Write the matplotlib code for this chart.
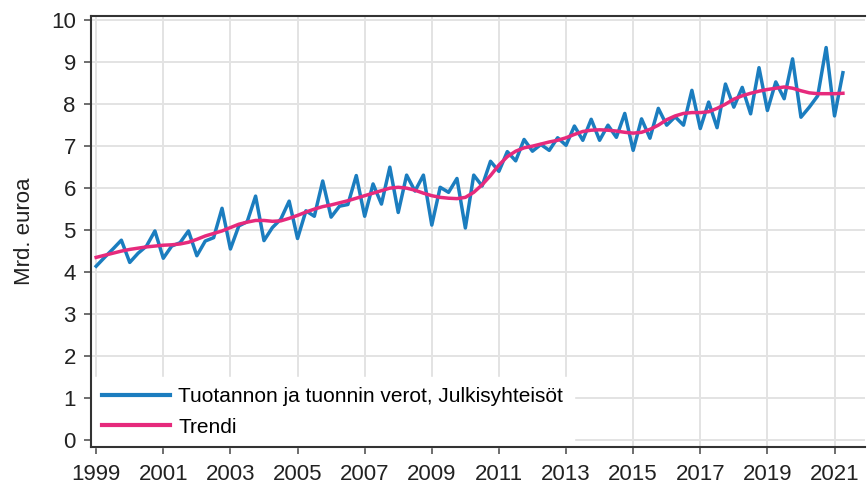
import matplotlib
matplotlib.use("Agg")
import matplotlib.pyplot as plt
import numpy as np

plt.rcParams['font.family'] = ['Liberation Sans', 'DejaVu Sans']

# quarterly data 1999Q1 .. 2021Q2, billions of euro
start_year = 1999
verot = [
    4.14, 4.35, 4.55, 4.76,   # 1999
    4.23, 4.45, 4.62, 4.98,   # 2000
    4.33, 4.62, 4.70, 4.98,   # 2001
    4.39, 4.74, 4.82, 5.52,   # 2002
    4.55, 5.10, 5.20, 5.81,   # 2003
    4.75, 5.06, 5.26, 5.69,   # 2004
    4.80, 5.46, 5.33, 6.17,   # 2005
    5.31, 5.57, 5.61, 6.30,   # 2006
    5.33, 6.10, 5.62, 6.50,   # 2007
    5.42, 6.31, 5.93, 6.31,   # 2008
    5.12, 6.02, 5.90, 6.23,   # 2009
    5.05, 6.31, 6.05, 6.64,   # 2010
    6.40, 6.87, 6.65, 7.16,   # 2011
    6.88, 7.04, 6.90, 7.20,   # 2012
    7.02, 7.48, 7.14, 7.64,   # 2013
    7.14, 7.50, 7.21, 7.78,   # 2014
    6.90, 7.65, 7.19, 7.90,   # 2015
    7.50, 7.70, 7.50, 8.33,   # 2016
    7.42, 8.05, 7.44, 8.48,   # 2017
    7.93, 8.40, 7.77, 8.87,   # 2018
    7.85, 8.53, 8.13, 9.08,   # 2019
    7.69, 7.93, 8.20, 9.35,   # 2020
    7.72, 8.75,               # 2021
]
trendi = [
    4.35, 4.40, 4.45, 4.50,
    4.54, 4.57, 4.60, 4.62,
    4.64, 4.65, 4.67, 4.71,
    4.78, 4.86, 4.92, 4.98,
    5.06, 5.14, 5.19, 5.23,
    5.23, 5.21, 5.22, 5.28,
    5.35, 5.43, 5.50, 5.56,
    5.60, 5.65, 5.70, 5.76,
    5.82, 5.88, 5.94, 6.00,
    6.02, 6.00, 5.95, 5.88,
    5.82, 5.78, 5.76, 5.75,
    5.78, 5.90, 6.08, 6.30,
    6.55, 6.75, 6.88, 6.96,
    7.00, 7.05, 7.10, 7.14,
    7.20, 7.28, 7.35, 7.38,
    7.39, 7.38, 7.36, 7.33,
    7.31, 7.33, 7.40, 7.50,
    7.63, 7.72, 7.78, 7.80,
    7.80, 7.82, 7.90, 8.00,
    8.12, 8.20, 8.26, 8.31,
    8.35, 8.38, 8.41, 8.38,
    8.32, 8.27, 8.25, 8.25,
    8.25, 8.26,
]
labels = ["Tuotannon ja tuonnin verot, Julkisyhteisöt", "Trendi"]
year_ticks = list(range(1999, 2022, 2))

t = start_year + np.arange(len(verot)) / 4.0

fig = plt.figure(figsize=(8.68, 4.86), dpi=100)
ax = fig.add_axes([0.105, 0.08, 0.892, 0.887])

ax.plot(t, verot, color="#1b7dbf", lw=2.5, label=labels[0], zorder=3)
ax.plot(t, trendi, color="#e62a7c", lw=2.5, label=labels[1], zorder=4)

ax.set_xlim(1998.85, 2021.92)
ax.set_ylim(-0.17, 10.1)
ax.set_xticks(year_ticks)
ax.set_yticks(range(0, 11))
ax.grid(True, color="#e3e3e3", lw=1.4)
ax.set_axisbelow(True)

for s in ["left", "bottom", "top"]:
    ax.spines[s].set_color("#333333")
    ax.spines[s].set_linewidth(1.5)
ax.spines["right"].set_visible(False)
ax.tick_params(axis="both", direction="out", length=5, width=1.2,
               color="#555555", labelsize=16, labelcolor="#222222")
ax.tick_params(axis="x", pad=7)
ax.tick_params(axis="y", pad=6)
ax.set_ylabel("Mrd. euroa", fontsize=16, color="#222222")
ax.yaxis.set_label_coords(-0.072, 0.5)

leg = ax.legend(loc="lower left", bbox_to_anchor=(0, 0), borderaxespad=0,
                frameon=True, fancybox=False, facecolor="white", edgecolor="white",
                framealpha=1, fontsize=15, handlelength=3.3, handletextpad=0.38,
                labelspacing=0.55, borderpad=0.5)
leg.set_zorder(2.4)  # keep the spines drawn on top of the white box
for line in leg.get_lines():
    line.set_linewidth(3)

fig.savefig("out.png", dpi=100)
